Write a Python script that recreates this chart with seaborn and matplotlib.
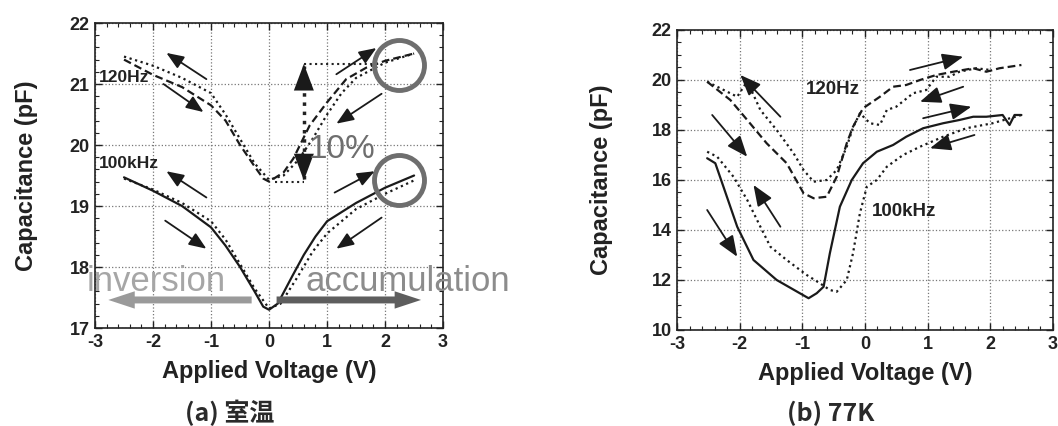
import numpy as np
import pandas as pd
import seaborn as sns
import matplotlib.pyplot as plt
from matplotlib.ticker import MultipleLocator

# ---- (a) room temperature ----
a_120_dash_v = [-2.5, -2.0, -1.5, -1.0, -0.75, -0.5, -0.25, -0.1, 0.0, 0.25, 0.42, 0.7, 1.0, 1.33, 1.68, 2.0, 2.5]
a_120_dash_c = [21.4, 21.15, 20.95, 20.65, 20.4, 20.0, 19.65, 19.45, 19.4, 19.55, 19.78, 20.32, 20.7, 21.08, 21.27, 21.38, 21.5]
a_120_dot_v = [-2.5, -2.0, -1.5, -1.0, -0.75, -0.5, -0.25, 0.0, 0.25, 0.5, 0.75, 1.0, 1.25, 1.5, 2.0, 2.5]
a_120_dot_c = [21.45, 21.3, 21.1, 20.85, 20.5, 20.1, 19.7, 19.43, 19.5, 19.75, 20.1, 20.5, 20.85, 21.1, 21.35, 21.5]
a_100k_solid_v = [-2.5, -2.0, -1.5, -1.0, -0.75, -0.5, -0.25, -0.1, 0.0, 0.15, 0.4, 0.6, 0.8, 1.0, 1.5, 2.0, 2.5]
a_100k_solid_c = [19.47, 19.25, 19.0, 18.65, 18.35, 18.0, 17.6, 17.35, 17.3, 17.4, 17.85, 18.2, 18.5, 18.75, 19.05, 19.3, 19.5]
a_100k_dot_v = [-2.5, -2.0, -1.5, -1.0, -0.75, -0.5, -0.25, 0.0, 0.2, 0.5, 0.75, 1.0, 1.5, 2.0, 2.5]
a_100k_dot_c = [19.45, 19.27, 19.05, 18.75, 18.45, 18.05, 17.65, 17.32, 17.4, 17.85, 18.25, 18.55, 18.95, 19.2, 19.42]

# ---- (b) 77K ----
b_120_dash_v = [-2.52, -2.15, -1.88, -1.57, -1.25, -0.98, -0.82, -0.61, -0.45, -0.29, -0.19, -0.03, 0.24, 0.45, 0.66, 0.88, 1.14, 1.41, 1.73, 1.94, 2.15, 2.5]
b_120_dash_c = [19.93, 19.2, 18.4, 17.47, 16.67, 15.47, 15.27, 15.33, 16.13, 17.47, 18.13, 18.87, 19.33, 19.73, 19.8, 20.0, 20.2, 20.33, 20.47, 20.33, 20.47, 20.6]
b_120_dot_v = [-2.52, -2.04, -1.88, -1.67, -1.41, -1.14, -0.98, -0.82, -0.61, -0.45, -0.29, -0.19, -0.08, 0.08, 0.24, 0.35, 0.5, 0.77, 0.98, 1.14, 1.35, 1.51, 1.78, 2.0]
b_120_dot_c = [19.93, 19.33, 19.95, 18.8, 18.0, 17.07, 16.4, 15.93, 16.0, 16.4, 17.33, 18.1, 18.67, 18.27, 18.2, 18.8, 18.93, 19.47, 19.6, 20.13, 20.13, 20.33, 20.47, 20.4]
b_100k_solid_v = [-2.52, -2.39, -2.26, -2.04, -1.78, -1.41, -1.04, -0.9, -0.77, -0.66, -0.56, -0.4, -0.21, -0.03, 0.19, 0.45, 0.66, 0.93, 1.25, 1.51, 1.73, 1.94, 2.2, 2.31, 2.39, 2.5]
b_100k_solid_c = [16.87, 16.67, 15.73, 14.13, 12.8, 12.0, 11.47, 11.27, 11.47, 11.73, 13.07, 14.93, 16.0, 16.67, 17.13, 17.4, 17.73, 18.07, 18.27, 18.4, 18.53, 18.53, 18.6, 18.2, 18.6, 18.6]
b_100k_dot_v = [-2.52, -2.36, -2.1, -1.88, -1.67, -1.51, -1.25, -0.93, -0.72, -0.56, -0.45, -0.29, -0.19, -0.08, 0.03, 0.19, 0.35, 0.61, 0.88, 1.25, 1.62, 2.04, 2.5]
b_100k_dot_c = [17.13, 16.93, 16.13, 15.2, 14.13, 13.33, 12.8, 12.2, 11.87, 11.6, 11.53, 12.0, 13.07, 14.67, 15.73, 16.0, 16.53, 17.0, 17.33, 17.73, 18.07, 18.27, 18.6]

DASH = (3.5, 1.8)
DOT = (1, 1.6)

sns.set_style("ticks")
plt.rcParams['font.family'] = ['Liberation Sans', 'DejaVu Sans']
plt.rcParams['axes.unicode_minus'] = False
plt.rcParams['xtick.direction'] = 'in'
plt.rcParams['ytick.direction'] = 'in'

fig = plt.figure(figsize=(10.58, 4.26), dpi=100)
ax1 = fig.add_axes([0.0898, 0.230, 0.329, 0.716])
ax2 = fig.add_axes([0.640, 0.2254, 0.355, 0.7042])


def curve(ax, v, c, dashes, lw=1.6):
    df = pd.DataFrame({'V': v, 'C': c})
    sns.lineplot(data=df, x='V', y='C', ax=ax, color='#1a1a1a', lw=lw,
                 sort=False, estimator=None)
    if dashes:
        ax.lines[-1].set_dashes(dashes)


def style(ax, ylo, yhi, ystep, yminor, ylab_x, xlab_y):
    ax.set_xlim(-3, 3)
    ax.set_ylim(ylo, yhi)
    ax.xaxis.set_major_locator(MultipleLocator(1))
    ax.xaxis.set_minor_locator(MultipleLocator(0.2))
    ax.yaxis.set_major_locator(MultipleLocator(ystep))
    ax.yaxis.set_minor_locator(MultipleLocator(yminor))
    ax.tick_params(which='both', top=True, right=True, direction='in', color='#222')
    ax.tick_params(which='major', length=5, width=1, labelsize=13, pad=4, labelcolor='#222')
    ax.tick_params(which='minor', length=3, width=0.8)
    for t in ax.get_xticklabels() + ax.get_yticklabels():
        t.set_fontweight('bold')
    ax.grid(True, which='major', ls=':', color='#777', lw=0.9)
    for s in ax.spines.values():
        s.set_color('#222')
        s.set_linewidth(1.2)
    ax.set_xlabel('Applied Voltage (V)', fontsize=17, fontweight='bold', color='#222')
    ax.set_ylabel('Capacitance (pF)', fontsize=17, fontweight='bold', color='#222')
    ax.yaxis.set_label_coords(ylab_x, 0.5)
    ax.xaxis.set_label_coords(0.5, xlab_y)


def arrow(ax, tail, head, size=14):
    ax.annotate('', xy=head, xytext=tail,
                arrowprops=dict(arrowstyle='-|>,head_length=0.75,head_width=0.3',
                                color='#1a1a1a', lw=1.3, mutation_scale=size,
                                shrinkA=0, shrinkB=0))


# ---------- panel (a) ----------
curve(ax1, a_120_dash_v, a_120_dash_c, DASH)
curve(ax1, a_120_dot_v, a_120_dot_c, DOT)
curve(ax1, a_100k_solid_v, a_100k_solid_c, None)
curve(ax1, a_100k_dot_v, a_100k_dot_c, DOT)
style(ax1, 17, 22, 1, 0.2, -0.165, -0.105)

ax1.text(-2.93, 21.1, '120Hz', fontsize=12.5, fontweight='bold', color='#222', va='center')
ax1.text(-2.93, 19.7, '100kHz', fontsize=12.5, fontweight='bold', color='#222', va='center')

for tail, head in [((-1.08, 21.08), (-1.77, 21.51)), ((-1.82, 21.0), (-1.13, 20.54)),
                   ((-1.08, 19.14), (-1.77, 19.57)), ((-1.79, 18.76), (-1.08, 18.30)),
                   ((1.16, 21.16), (1.85, 21.59)), ((1.94, 20.84), (1.16, 20.35)),
                   ((1.13, 19.22), (1.82, 19.57)), ((1.94, 18.81), (1.16, 18.30))]:
    arrow(ax1, tail, head)

# 10% bracket
ax1.plot([0.1, 0.6], [19.4, 19.4], ls=':', color='#222', lw=1.5)
ax1.plot([0.6, 1.9], [21.33, 21.33], ls=':', color='#222', lw=1.5)
ax1.plot([0.6, 0.6], [19.45, 21.3], ls=':', color='#222', lw=2.5)
ax1.annotate('', xy=(0.6, 21.33), xytext=(0.6, 21.0),
             arrowprops=dict(arrowstyle='-|>,head_length=1.2,head_width=0.45', color='#1a1a1a',
                             lw=0, mutation_scale=16, shrinkA=0, shrinkB=0))
ax1.annotate('', xy=(0.6, 19.42), xytext=(0.6, 19.75),
             arrowprops=dict(arrowstyle='-|>,head_length=1.2,head_width=0.45', color='#1a1a1a',
                             lw=0, mutation_scale=16, shrinkA=0, shrinkB=0))
ax1.text(0.68, 19.92, '10%', fontsize=24, color='#6e6e6e', va='center')

# circles
for cy in (21.31, 19.43):
    ax1.plot([2.24], [cy], marker='o', ms=36, mfc='none', mec='#6e6e6e', mew=3.5, clip_on=False)

# inversion / accumulation
ax1.text(-3.14, 17.76, 'inversion', fontsize=25, color='#a6a6a6', va='center', clip_on=False)
ax1.text(0.62, 17.76, 'accumulation', fontsize=25, color='#8c8c8c', va='center', clip_on=False)
ax1.annotate('', xy=(-2.77, 17.46), xytext=(-0.3, 17.46),
             arrowprops=dict(arrowstyle='simple,head_length=1.9,head_width=1.25,tail_width=0.5',
                             color='#9a9a9a', lw=0, mutation_scale=10, shrinkA=0, shrinkB=0))
ax1.annotate('', xy=(2.62, 17.46), xytext=(0.13, 17.46),
             arrowprops=dict(arrowstyle='simple,head_length=1.9,head_width=1.25,tail_width=0.5',
                             color='#5e5e5e', lw=0, mutation_scale=10, shrinkA=0, shrinkB=0))

# ---------- panel (b) ----------
curve(ax2, b_120_dash_v, b_120_dash_c, DASH)
curve(ax2, b_120_dot_v, b_120_dot_c, DOT)
curve(ax2, b_100k_solid_v, b_100k_solid_c, None)
curve(ax2, b_100k_dot_v, b_100k_dot_c, DOT)
style(ax2, 10, 22, 2, 0.5, -0.172, -0.107)

ax2.text(-0.95, 19.6, '120Hz', fontsize=13.5, fontweight='bold', color='#222', va='center')
ax2.text(0.11, 14.73, '100kHz', fontsize=13.5, fontweight='bold', color='#222', va='center')

for tail, head in [((-1.35, 18.53), (-1.99, 20.2)), ((-2.44, 18.6), (-1.88, 16.93)),
                   ((-1.35, 14.13), (-1.78, 15.8)), ((-2.52, 14.8), (-2.04, 12.93)),
                   ((0.72, 20.4), (1.57, 20.93)), ((1.57, 19.73), (0.88, 19.13)),
                   ((0.93, 18.47), (1.70, 18.93)), ((1.75, 17.8), (1.04, 17.27))]:
    arrow(ax2, tail, head, size=17)

# captions
cap = ['Noto Sans CJK JP', 'DejaVu Sans']
fig.text(0.175, 0.03, '(a) 室温', fontsize=18, family=cap, fontweight='bold', color='#2a2a2a',
         ha='left', va='center')
fig.text(0.744, 0.03, '(b) 77K', fontsize=18, family=cap, fontweight='bold', color='#2a2a2a',
         ha='left', va='center')

fig.savefig('out.png', dpi=100)
